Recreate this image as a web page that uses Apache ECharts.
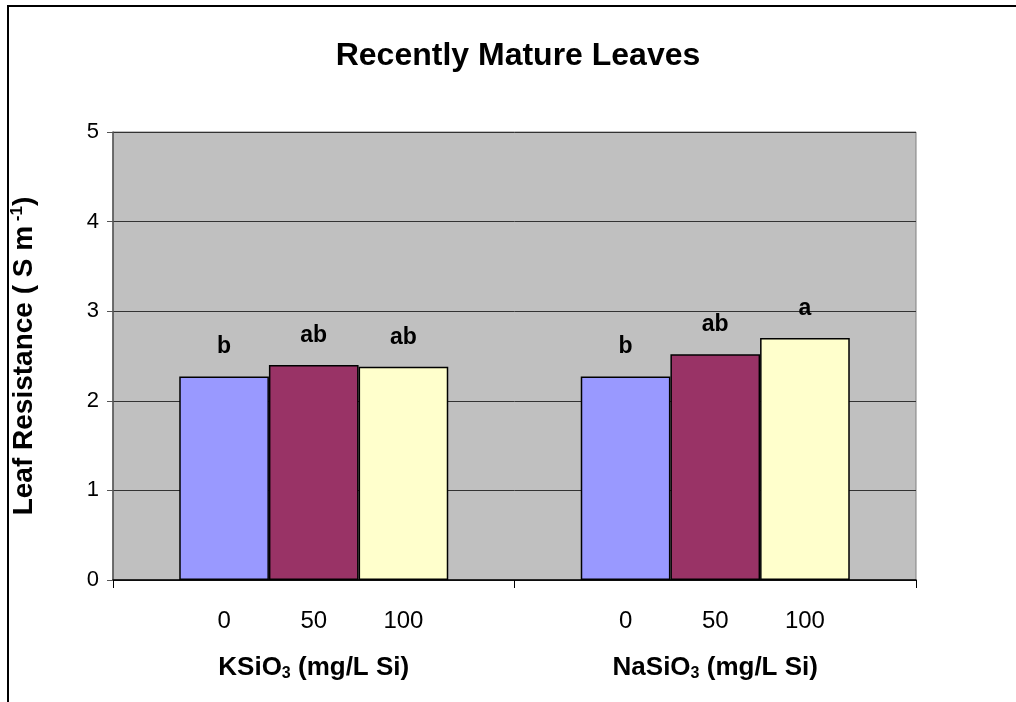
<!DOCTYPE html>
<html>
<head>
<meta charset="utf-8">
<script src="https://cdn.jsdelivr.net/npm/echarts@6/dist/echarts.min.js"></script>
<style>
  html, body { margin: 0; padding: 0; background: #fff; }
  #chart { width: 1016px; height: 702px; }
</style>
</head>
<body>
<div id="chart"></div>
<script>
// 数据
var categories = ['KSiO3 (mg/L Si)', 'NaSiO3 (mg/L Si)']
var doses = ['0', '50', '100']
var dose0 = [2.27, 2.27]
var dose50 = [2.40, 2.52]
var dose100 = [2.38, 2.70]
var letters0 = ['b', 'b']
var letters50 = ['ab', 'ab']
var letters100 = ['ab', 'a']
var yTicks = [0, 1, 2, 3, 4, 5]

var values = [dose0, dose50, dose100]
var letters = [letters0, letters50, letters100]
var colors = ['#9999FF', '#993366', '#FFFFCC']

var font = 'Liberation Sans, Arial, sans-serif'

var myChart = echarts.init(document.getElementById('chart'))

var series = []
values.forEach(function (vals, i) {
  // 柱子 + 下方剂量标签
  series.push({
    name: doses[i],
    type: 'bar',
    stack: 's' + i,
    stackStrategy: 'all',
    barGap: '0%',
    barCategoryGap: '33%',
    data: vals,
    itemStyle: { color: colors[i], borderColor: '#000', borderWidth: 1.5 },
    label: {
      show: true,
      position: 'bottom',
      distance: 29,
      color: '#000',
      fontFamily: font,
      fontSize: 24,
      formatter: function () { return doses[i] }
    }
  })
  // 显著性字母（叠在柱顶，高度为0）
  series.push({
    name: doses[i] + '-sig',
    type: 'bar',
    stack: 's' + i,
    stackStrategy: 'all',
    barGap: '0%',
    barCategoryGap: '33%',
    data: vals.map(function () { return 0 }),
    itemStyle: { color: 'transparent', borderWidth: 0 },
    label: {
      show: true,
      position: 'top',
      distance: 18,
      color: '#000',
      fontFamily: font,
      fontWeight: 'bold',
      fontSize: 23,
      formatter: function (p) { return letters[i][p.dataIndex] }
    }
  })
})

var option = {
  animation: false,
  title: {
    text: 'Recently Mature Leaves',
    left: 513,
    textAlign: 'center',
    top: 35,
    textStyle: { fontFamily: font, fontWeight: 'bold', fontSize: 32, color: '#000' }
  },
  grid: {
    left: 113,
    right: 100,
    top: 132,
    bottom: 122,
    outerBoundsMode: 'none',
    containLabel: false,
    show: true,
    backgroundColor: '#C0C0C0',
    borderColor: '#808080',
    borderWidth: 1
  },
  xAxis: {
    type: 'category',
    data: categories,
    axisLine: { lineStyle: { color: '#000', width: 1.5 } },
    axisTick: { show: true, length: 8, lineStyle: { color: '#000' } },
    axisLabel: {
      margin: 74,
      formatter: function (v) {
        var parts = v.split('3')
        return '{b|' + parts[0] + '}{sub|3}{b|' + parts[1] + '}'
      },
      rich: {
        b: { fontFamily: font, fontWeight: 'bold', fontSize: 26, color: '#000' },
        sub: { fontFamily: font, fontWeight: 'bold', fontSize: 16, color: '#000', padding: [12, 0, 0, 0] }
      }
    }
  },
  yAxis: {
    type: 'value',
    min: yTicks[0],
    max: yTicks[yTicks.length - 1],
    interval: 1,
    name: '{t|Leaf Resistance ( S m}{sup| -1}{t|)}',
    nameLocation: 'middle',
    nameRotate: 90,
    nameGap: 74,
    nameTextStyle: {
      rich: {
        t: { fontFamily: font, fontWeight: 'bold', fontSize: 28, color: '#000' },
        sup: { fontFamily: font, fontWeight: 'bold', fontSize: 17, color: '#000', padding: [0, 0, 13, 0] }
      }
    },
    axisLine: { show: true, lineStyle: { color: '#555', width: 1.5 } },
    axisTick: { show: true, inside: false, length: 6, lineStyle: { color: '#555' } },
    axisLabel: { fontFamily: font, fontSize: 22, color: '#000', margin: 14 },
    splitLine: { lineStyle: { color: '#333', width: 1 } }
  },
  series: series,
  graphic: [{
    type: 'rect',
    shape: { x: 8, y: 6, width: 1200, height: 900 },
    style: { fill: 'none', stroke: '#000', lineWidth: 2 },
    silent: true
  }]
}

myChart.setOption(option)
window.addEventListener('resize', function () {
  myChart.resize()
})
</script>
</body>
</html>
